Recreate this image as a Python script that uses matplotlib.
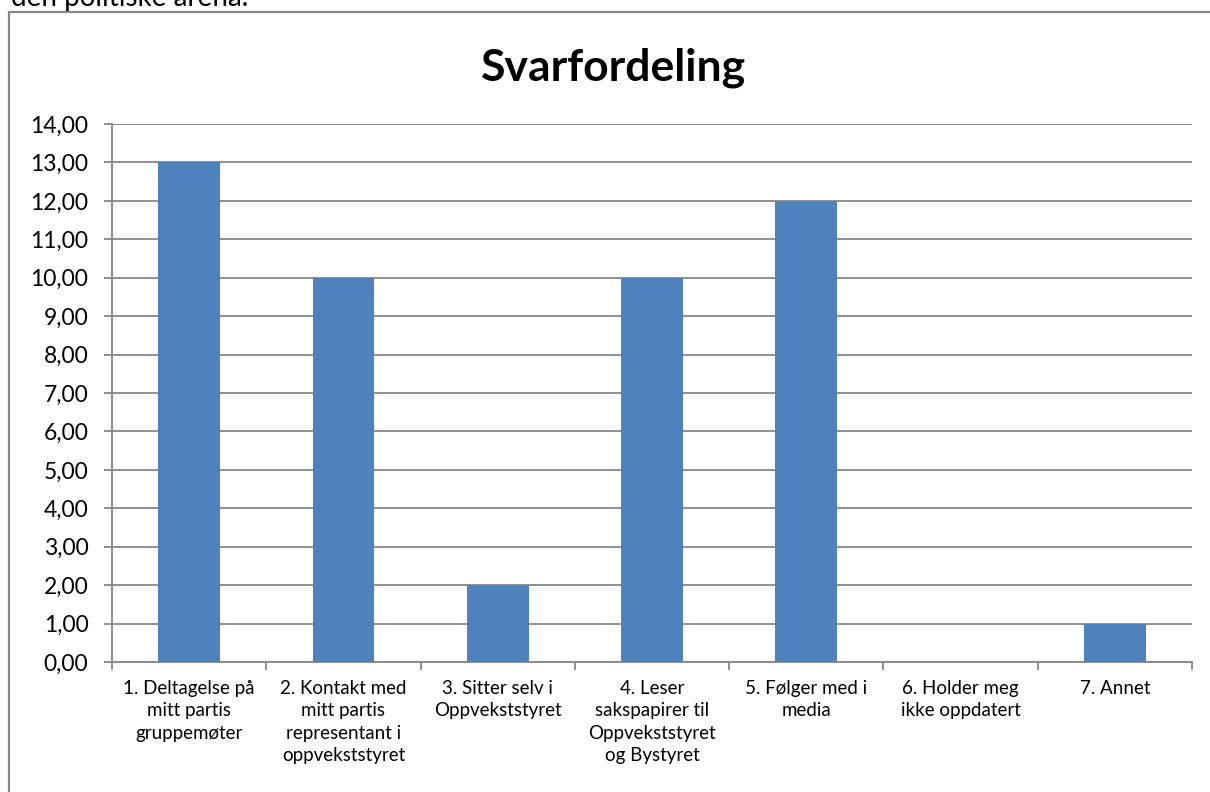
import matplotlib
matplotlib.use("Agg")
import matplotlib.pyplot as plt
from matplotlib.patches import Rectangle

plt.rcParams['font.family'] = ['Lato', 'DejaVu Sans']

categories = [
    "1. Deltagelse på\nmitt partis\ngruppemøter",
    "2. Kontakt med\nmitt partis\nrepresentant i\noppvekststyret",
    "3. Sitter selv i\nOppvekststyret",
    "4. Leser\nsakspapirer til\nOppvekststyret\nog Bystyret",
    "5. Følger med i\nmedia",
    "6. Holder meg\nikke oppdatert",
    "7. Annet",
]
values = [13, 10, 2, 10, 12, 0, 1]
yticks = list(range(0, 15))
ytick_labels = [f"{v},00" for v in yticks]
title = "Svarfordeling"

W, H = 1210, 792
fig = plt.figure(figsize=(W / 100, H / 100), dpi=100)

# outer chart frame
fig.patches.append(Rectangle((9 / W, -0.1), 1.2, (H - 12) / H + 0.1,
                             transform=fig.transFigure, fill=False,
                             edgecolor="#878787", linewidth=1.6))
fig.text(11 / W, 1 - 6 / H, "den politiske arena.", fontsize=20,
         ha="left", va="baseline", color="#000000")

left, right, top, bottom = 112, 1192, 124, 662
ax = fig.add_axes([left / W, 1 - bottom / H, (right - left) / W, (bottom - top) / H])

x = list(range(len(values)))
ax.bar(x, values, width=0.4, color="#4F81BD", zorder=3)
ax.set_xlim(-0.5, len(values) - 0.5)
ax.set_ylim(0, 14)
ax.set_yticks(yticks)
ax.set_yticklabels(ytick_labels, fontsize=16.5)
ax.yaxis.grid(True, color="#878787", linewidth=1.3, zorder=0)
ax.set_axisbelow(True)

for s in ["top", "right"]:
    ax.spines[s].set_visible(False)
for s in ["left", "bottom"]:
    ax.spines[s].set_color("#878787")
    ax.spines[s].set_linewidth(1.3)

ax.set_xticks([i - 0.5 for i in range(len(values) + 1)])
ax.set_xticklabels([])
ax.tick_params(axis="x", length=6, width=1.3, color="#878787")
ax.tick_params(axis="y", length=6, width=1.3, color="#878787", pad=11)
ax.set_xticks(x, minor=True)
ax.set_xticklabels(categories, minor=True, fontsize=13.5, linespacing=1.38, va="top")
ax.tick_params(axis="x", which="minor", length=0, pad=13)

fig.text(614 / W, 1 - 68 / H, title, fontsize=32, fontweight="bold",
         ha="center", va="center")

fig.savefig("out.png", dpi=100)
